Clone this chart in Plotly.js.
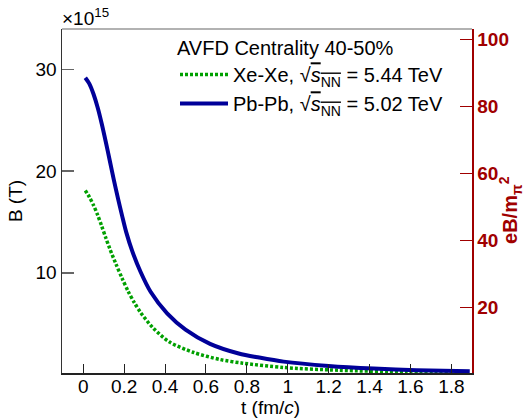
<!DOCTYPE html>
<html>
<head>
<meta charset="utf-8">
<script src="https://cdn.plot.ly/plotly-3.0.1.min.js"></script>
<style>html,body{margin:0;padding:0;background:#fff;}#chart{width:529px;height:418px;}</style>
</head>
<body>
<div id="chart"></div>
<script>
// Pb-Pb, sqrt(sNN)=5.02 TeV (B in units of 1e15 T)
const pbpbT = [0.01, 0.03, 0.05, 0.07, 0.09, 0.11, 0.13, 0.15, 0.17, 0.19, 0.21, 0.24, 0.28, 0.33, 0.41, 0.50, 0.62, 0.76, 0.86, 0.98, 1.20, 1.42, 1.63, 1.89];
const pbpbB = [29.2, 28.6, 27.6, 26.3, 24.7, 22.9, 21.0, 19.1, 17.3, 15.6, 14.0, 12.1, 10.1, 8.1, 6.0, 4.4, 3.0, 2.05, 1.65, 1.25, 0.83, 0.57, 0.41, 0.30];
// Xe-Xe, sqrt(sNN)=5.44 TeV
const xexeT = [0.01, 0.03, 0.05, 0.07, 0.09, 0.11, 0.13, 0.16, 0.19, 0.22, 0.25, 0.28, 0.34, 0.42, 0.54, 0.67, 0.78, 0.98, 1.25, 1.58, 1.89];
const xexeB = [18.1, 17.45, 16.65, 15.7, 14.6, 13.45, 12.35, 10.85, 9.45, 8.15, 7.05, 6.1, 4.6, 3.2, 2.15, 1.45, 1.1, 0.67, 0.40, 0.23, 0.15];

const xTickVals = [0, 0.2, 0.4, 0.6, 0.8, 1, 1.2, 1.4, 1.6, 1.8];
const xTickText = ["0", "0.2", "0.4", "0.6", "0.8", "1", "1.2", "1.4", "1.6", "1.8"];
const yTickVals = [10, 20, 30];
const y2TickVals = [20, 40, 60, 80, 100];

const FONT = "Liberation Sans, Arial, Helvetica, sans-serif";
const RED = "#a00000";

const traces = [
  {
    x: xexeT, y: xexeB, type: "scatter", mode: "lines",
    name: "Xe-Xe, √<span style=\"text-decoration:overline\"><i>s</i><sub>NN</sub></span> = 5.44 TeV",
    line: {color: "#00a000", width: 3.5, dash: "3px,2px", shape: "spline", smoothing: 0.8},
    hoverinfo: "skip"
  },
  {
    x: pbpbT, y: pbpbB, type: "scatter", mode: "lines",
    name: "Pb-Pb, √<span style=\"text-decoration:overline\"><i>s</i><sub>NN</sub></span> = 5.02 TeV",
    line: {color: "#000099", width: 4, shape: "spline", smoothing: 0.8},
    hoverinfo: "skip"
  },
  {x: [], y: [], yaxis: "y2", type: "scatter", mode: "lines", showlegend: false, hoverinfo: "skip"}
];

const layout = {
  width: 529, height: 418,
  margin: {l: 62, r: 57, t: 29, b: 45, pad: 0},
  paper_bgcolor: "#fff", plot_bgcolor: "#fff",
  font: {family: FONT, size: 19, color: "#000"},
  showlegend: true,
  legend: {
    x: (175 - 62) / 410, y: 1, xanchor: "left", yanchor: "top",
    bgcolor: "rgba(0,0,0,0)", borderwidth: 0,
    font: {family: FONT, size: 20, color: "#000"},
    itemwidth: 48,
    title: {text: "AVFD Centrality 40-50%", font: {family: FONT, size: 20, color: "#000"}, side: "top"}
  },
  xaxis: {
    range: [-0.104, 1.901], tickmode: "array", tickvals: xTickVals, ticktext: xTickText,
    ticks: "inside", ticklen: 9, tickcolor: "#222", tickwidth: 1,
    showline: true, linecolor: "#222", linewidth: 1.5, mirror: false,
    showgrid: false, zeroline: false,
    tickfont: {family: FONT, size: 19, color: "#000"},
    ticklabelstandoff: -4,
    automargin: false
  },
  yaxis: {
    range: [0.13, 34.0], tickmode: "array", tickvals: yTickVals,
    ticks: "inside", ticklen: 12, tickcolor: "#666", tickwidth: 1.5,
    showline: true, linecolor: "#333", linewidth: 1.5, mirror: false,
    showgrid: false, zeroline: false,
    tickfont: {family: FONT, size: 19, color: "#000"},
    title: {text: "B (T)", font: {family: FONT, size: 19, color: "#000"}, standoff: 8},
    automargin: false
  },
  yaxis2: {
    overlaying: "y", side: "right", anchor: "x",
    range: [0.45, 103.2], tickmode: "array", tickvals: y2TickVals,
    ticks: "inside", ticklen: 12, tickcolor: RED, tickwidth: 1.5,
    showline: true, linecolor: RED, linewidth: 1.5,
    showgrid: false, zeroline: false,
    tickfont: {family: FONT, size: 19, color: RED, weight: "bold"},
    automargin: false
  },
  shapes: [
    {type: "line", xref: "paper", yref: "paper", x0: 0, x1: 1, y0: 1, y1: 1, line: {color: "#999", width: 1.5}}
  ],
  annotations: [
    {text: "×10<sup>15</sup>", xref: "paper", yref: "paper", x: 0, y: 1, xanchor: "left", yanchor: "bottom",
     xshift: -2, yshift: -2, showarrow: false, font: {family: FONT, size: 19, color: "#000"}},
    {text: "t (fm/<i>c</i>)", xref: "paper", yref: "paper", x: (270 - 62) / 410, y: (372.7 - 407.5) / 343.4,
     xanchor: "center", yanchor: "middle", showarrow: false, font: {family: FONT, size: 19, color: "#000"}},
    {text: "<b>eB/m<sub>π</sub><sup>2</sup></b>", xref: "paper", yref: "paper", x: (511 - 62) / 410, y: 0.474,
     xanchor: "center", yanchor: "middle", textangle: -90, showarrow: false,
     font: {family: FONT, size: 20, color: RED}}
  ]
};

Plotly.newPlot("chart", traces, layout, {staticPlot: true, displayModeBar: false});
</script>
</body>
</html>
